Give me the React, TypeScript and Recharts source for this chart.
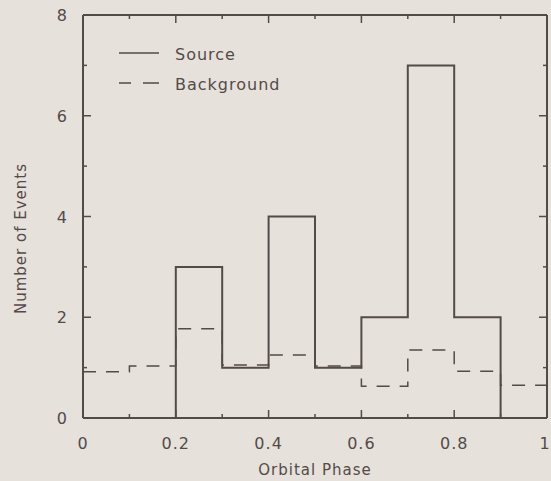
import { ComposedChart, Line, XAxis, YAxis, Legend } from "recharts";

// histogram bins (left edges), counts per bin
const phaseBins = [0, 0.1, 0.2, 0.3, 0.4, 0.5, 0.6, 0.7, 0.8, 0.9];
const sourceCounts = [0, 0, 3, 1, 4, 1, 2, 7, 2, 0];
const backgroundCounts = [0.92, 1.03, 1.77, 1.05, 1.25, 1.03, 0.63, 1.35, 0.93, 0.65];
const phaseEnd = 1;

const xTicks = [0, 0.1, 0.2, 0.3, 0.4, 0.5, 0.6, 0.7, 0.8, 0.9, 1];
const yTicks = [0, 1, 2, 3, 4, 5, 6, 7, 8];

const INK = "#544a4a";
const PAPER = "#e6e1db";
const FONT = "'DejaVu Sans', sans-serif";

// stepAfter needs a closing point at the right edge
const data = [
  ...phaseBins.map((phase, i) => ({
    phase,
    source: sourceCounts[i],
    background: backgroundCounts[i],
  })),
  {
    phase: phaseEnd,
    source: sourceCounts[sourceCounts.length - 1],
    background: backgroundCounts[backgroundCounts.length - 1],
  },
];

const isMajorX = (v: number) => Math.round(v * 10) % 2 === 0;
const isMajorY = (v: number) => Math.round(v) % 2 === 0;
const fmtX = (v: number) => String(Number(v.toFixed(1)));

function BottomTick({ x, y, payload }: any) {
  const major = isMajorX(payload.value);
  // keep the last label inside the page
  const lx = Math.min(x, 545);
  return (
    <g>
      <line x1={x} y1={y} x2={x} y2={y - (major ? 8 : 4)} stroke={INK} strokeWidth={1.5} />
      {major && (
        <text x={lx} y={y + 31} textAnchor="middle" fill={INK} fontSize={16} fontFamily={FONT} letterSpacing={1}>
          {fmtX(payload.value)}
        </text>
      )}
    </g>
  );
}

function TopTick({ x, y, payload }: any) {
  const major = isMajorX(payload.value);
  return <line x1={x} y1={y} x2={x} y2={y + (major ? 8 : 4)} stroke={INK} strokeWidth={1.5} />;
}

function LeftTick({ x, y, payload }: any) {
  const major = isMajorY(payload.value);
  return (
    <g>
      <line x1={x} y1={y} x2={x + (major ? 8 : 4)} y2={y} stroke={INK} strokeWidth={1.5} />
      {major && (
        <text x={x - 16} y={y + 6} textAnchor="end" fill={INK} fontSize={16} fontFamily={FONT}>
          {payload.value}
        </text>
      )}
    </g>
  );
}

function RightTick({ x, y, payload }: any) {
  const major = isMajorY(payload.value);
  return <line x1={x} y1={y} x2={x - (major ? 8 : 4)} y2={y} stroke={INK} strokeWidth={1.5} />;
}

function HistLegend() {
  return (
    <svg width={200} height={60}>
      <line x1={8} y1={13} x2={48} y2={13} stroke={INK} strokeWidth={1.5} />
      <text x={64} y={20} fill={INK} fontSize={16} fontFamily={FONT} letterSpacing={1}>
        Source
      </text>
      <line x1={8} y1={43} x2={48} y2={43} stroke={INK} strokeWidth={1.5} strokeDasharray="12 12 16" />
      <text x={64} y={50} fill={INK} fontSize={16} fontFamily={FONT} letterSpacing={1}>
        Background
      </text>
    </svg>
  );
}

export default function App() {
  return (
    <div style={{ position: "absolute", left: 0, top: 0, width: 551, height: 481, background: PAPER }}>
      <ComposedChart
        width={551}
        height={481}
        data={data}
        margin={{ top: 14, right: 3, bottom: 33, left: 43 }}
      >
        <XAxis
          xAxisId="main"
          dataKey="phase"
          type="number"
          domain={[0, 1]}
          ticks={xTicks}
          interval={0}
          height={30}
          tickSize={0}
          tickMargin={0}
          tick={<BottomTick />}
          axisLine={{ stroke: INK, strokeWidth: 2 }}
          label={(props: any) => {
            const vb = props.viewBox;
            return (
              <text
                x={vb.x + vb.width / 2}
                y={vb.y + 57}
                textAnchor="middle"
                fill={INK}
                fontSize={15}
                fontFamily={FONT}
                letterSpacing={1}
              >
                Orbital Phase
              </text>
            );
          }}
        />
        <XAxis
          xAxisId="top"
          orientation="top"
          dataKey="phase"
          type="number"
          domain={[0, 1]}
          ticks={xTicks}
          interval={0}
          height={1}
          tickSize={0}
          tickMargin={0}
          tick={<TopTick />}
          axisLine={{ stroke: INK, strokeWidth: 2 }}
        />
        <YAxis
          yAxisId="main"
          type="number"
          domain={[0, 8]}
          ticks={yTicks}
          interval={0}
          width={40}
          tickSize={0}
          tickMargin={0}
          tick={<LeftTick />}
          axisLine={{ stroke: INK, strokeWidth: 2 }}
          label={(props: any) => {
            const vb = props.viewBox;
            const cx = 21;
            const cy = vb.y + vb.height / 2 + 22;
            return (
              <text
                x={cx}
                y={cy}
                transform={`rotate(-90 ${cx} ${cy})`}
                textAnchor="middle"
                dominantBaseline="central"
                fill={INK}
                fontSize={15}
                fontFamily={FONT}
                letterSpacing={1}
              >
                Number of Events
              </text>
            );
          }}
        />
        <YAxis
          yAxisId="right"
          orientation="right"
          type="number"
          domain={[0, 8]}
          ticks={yTicks}
          interval={0}
          width={1}
          tickSize={0}
          tickMargin={0}
          tick={<RightTick />}
          axisLine={{ stroke: INK, strokeWidth: 2 }}
        />
        <Legend
          layout="horizontal"
          verticalAlign="middle"
          align="center"
          content={<HistLegend />}
          wrapperStyle={{ position: "absolute", left: 111, top: 40, width: 200, height: 60 }}
        />
        <Line
          xAxisId="main"
          yAxisId="main"
          type="stepAfter"
          dataKey="background"
          stroke={INK}
          strokeWidth={1.5}
          strokeDasharray="13 10"
          dot={false}
          isAnimationActive={false}
        />
        <Line
          xAxisId="main"
          yAxisId="main"
          type="stepAfter"
          dataKey="source"
          stroke={INK}
          strokeWidth={2}
          dot={false}
          isAnimationActive={false}
        />
        <Line
          xAxisId="top"
          yAxisId="right"
          dataKey="source"
          stroke="none"
          dot={false}
          legendType="none"
          isAnimationActive={false}
        />
      </ComposedChart>
    </div>
  );
}
